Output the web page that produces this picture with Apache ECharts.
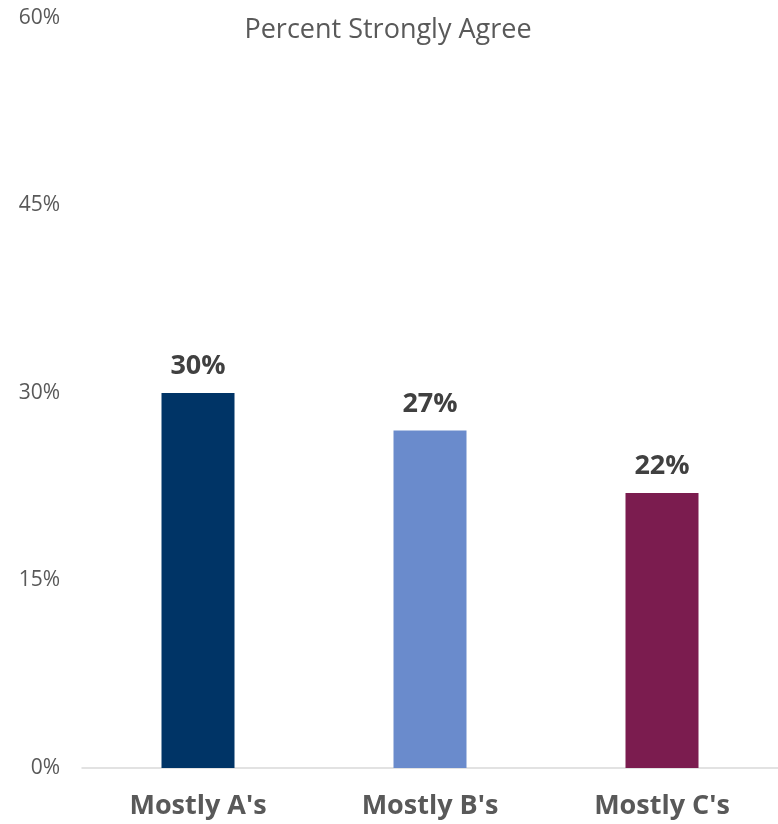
<!DOCTYPE html>
<html><head><meta charset="utf-8">
<script src="https://cdn.jsdelivr.net/npm/echarts@6/dist/echarts.min.js"></script>
<style>html,body{margin:0;padding:0;background:#fff}#c{width:778px;height:824px}</style>
</head><body><div id="c"></div>
<script>
const categories = ["Mostly A's", "Mostly B's", "Mostly C's"];
const values = [30, 27, 22];
const barColors = ["#003466", "#6a8bcc", "#7b1c4f"];
const titleText = "Percent Strongly Agree";

const chart = echarts.init(document.getElementById('c'));
chart.setOption({
  animation: false,
  title: {
    text: titleText, left: 383, top: 12, textAlign: 'center',
    textStyle: {fontFamily: 'Open Sans', fontSize: 27, fontWeight: 'normal', color: '#595959'}
  },
  grid: {left: 82, right: -4, top: 18, bottom: 56, containLabel: false},
  xAxis: {
    type: 'category', data: categories,
    axisLine: {lineStyle: {color: '#d9d9d9', width: 1.5}},
    axisTick: {show: false},
    axisLabel: {fontFamily: 'Open Sans', fontSize: 27, fontWeight: 'bold', color: '#595959', margin: 25}
  },
  yAxis: {
    type: 'value', min: 0, max: 60, interval: 15,
    splitLine: {show: false},
    axisLine: {show: false}, axisTick: {show: false},
    axisLabel: {formatter: '{value}%', fontFamily: 'Open Sans', fontSize: 21, color: '#595959', margin: 22}
  },
  series: [{
    type: 'bar', barWidth: 73,
    data: values.map((v, i) => ({value: v, itemStyle: {color: barColors[i]}})),
    label: {show: true, position: 'top', distance: 13, formatter: '{c}%',
      fontFamily: 'Open Sans', fontSize: 27, fontWeight: 'bold', color: '#404040'}
  }]
});
</script></body></html>
